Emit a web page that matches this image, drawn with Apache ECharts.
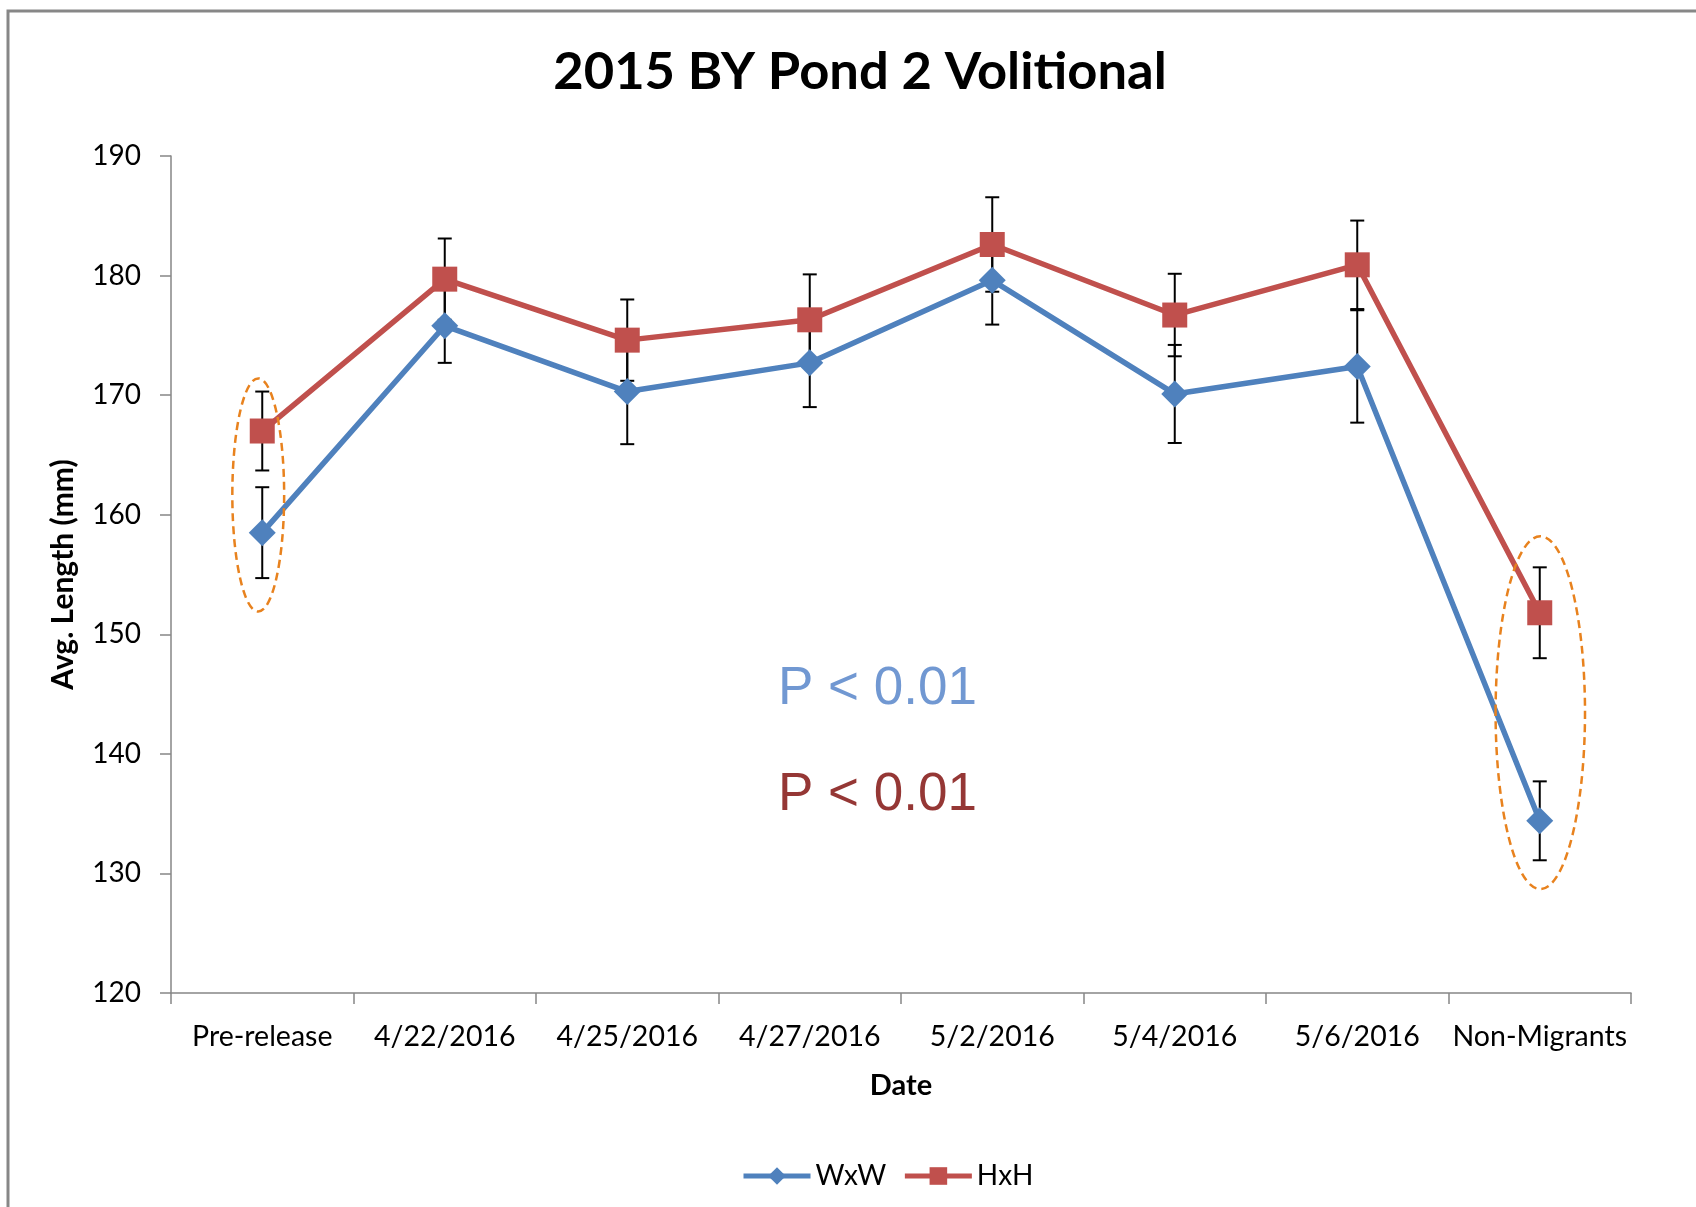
<!DOCTYPE html>
<html>
<head>
<meta charset="utf-8">
<title>2015 BY Pond 2 Volitional</title>
<script src="https://cdn.jsdelivr.net/npm/echarts@6/dist/echarts.min.js"></script>
<style>
  html, body { margin: 0; padding: 0; background: #ffffff; }
  #chart { width: 1696px; height: 1207px; }
</style>
</head>
<body>
<div id="chart"></div>
<script>
// Sampling dates (x categories)
const categories = ['Pre-release', '4/22/2016', '4/25/2016', '4/27/2016', '5/2/2016', '5/4/2016', '5/6/2016', 'Non-Migrants'];

// Average fork length (mm) and error-bar half widths per group
const wxwMean = [158.5, 175.8, 170.3, 172.7, 179.6, 170.1, 172.4, 134.4];
const wxwErr  = [3.8, 3.1, 4.4, 3.7, 3.7, 4.1, 4.7, 3.3];
const hxhMean = [167.0, 179.7, 174.6, 176.3, 182.6, 176.7, 180.9, 151.8];
const hxhErr  = [3.3, 3.4, 3.4, 3.8, 3.95, 3.45, 3.7, 3.8];

// Value axis range
const yMin = 120;
const yMax = 190;
const yStep = 10;

// Highlighted comparisons: [category position, upper value, lower value, half width in category steps]
const highlightGroups = [
  [-0.022, 171.4, 151.9, 0.142],
  [0.003 + 7, 158.2, 128.7, 0.245]
];

// Significance notes
const pNotes = ['P < 0.01', 'P < 0.01'];

const BLUE = '#4f81bd';
const RED = '#c0504d';
const CAL = 'Lato, "Noto Sans", sans-serif';

function errorBars(name, means, errs) {
  return {
    type: 'custom',
    name: name + ' error',
    z: 1,
    silent: true,
    data: means.map((m, i) => [i, m - errs[i], m + errs[i]]),
    renderItem(params, api) {
      const lo = api.coord([api.value(0), api.value(1)]);
      const hi = api.coord([api.value(0), api.value(2)]);
      const hw = 7;
      const style = { stroke: '#000000', lineWidth: 2 };
      return {
        type: 'group',
        children: [
          { type: 'line', shape: { x1: hi[0], y1: hi[1], x2: lo[0], y2: lo[1] }, style },
          { type: 'line', shape: { x1: hi[0] - hw, y1: hi[1], x2: hi[0] + hw, y2: hi[1] }, style },
          { type: 'line', shape: { x1: lo[0] - hw, y1: lo[1], x2: lo[0] + hw, y2: lo[1] }, style }
        ]
      };
    }
  };
}

const chart = echarts.init(document.getElementById('chart'), null, { renderer: 'canvas' });

chart.setOption({
  backgroundColor: '#ffffff',
  animation: false,
  title: {
    text: '2015 BY Pond 2 Volitional',
    left: 855,
    top: 41,
    textAlign: 'center',
    textStyle: { fontFamily: CAL, fontWeight: 'bold', fontSize: 52.5, color: '#000000' }
  },
  grid: { left: 171, right: 65, top: 156, bottom: 214, containLabel: false },
  legend: {
    data: ['WxW', 'HxH'],
    left: 736,
    top: 1157,
    itemWidth: 67,
    itemHeight: 22,
    itemGap: 16,
    lineStyle: { width: 5 },
    textStyle: { fontFamily: CAL, fontSize: 28, color: '#000000' }
  },
  xAxis: {
    type: 'category',
    data: categories,
    boundaryGap: true,
    name: 'Date',
    nameLocation: 'middle',
    nameGap: 78,
    nameTextStyle: { fontFamily: CAL, fontWeight: 'bold', fontSize: 29, color: '#000000', verticalAlign: 'top' },
    axisLine: { show: true, lineStyle: { color: '#868686', width: 1.5 } },
    axisTick: { show: true, interval: 0, length: 11, lineStyle: { color: '#868686', width: 1.5 } },
    axisLabel: { interval: 0, margin: 29, fontFamily: CAL, fontSize: 28.5, color: '#000000' },
    splitLine: { show: false }
  },
  yAxis: {
    type: 'value',
    min: yMin,
    max: yMax,
    interval: yStep,
    name: 'Avg. Length (mm)',
    nameLocation: 'middle',
    nameGap: 93,
    nameTextStyle: { fontFamily: CAL, fontWeight: 'bold', fontSize: 30, color: '#000000' },
    axisLine: { show: true, lineStyle: { color: '#868686', width: 1.5 } },
    axisTick: { show: true, length: 11, lineStyle: { color: '#868686', width: 1.5 } },
    axisLabel: { margin: 30, fontFamily: CAL, fontSize: 28, color: '#000000' },
    splitLine: { show: false }
  },
  series: [
    errorBars('WxW', wxwMean, wxwErr),
    errorBars('HxH', hxhMean, hxhErr),
    {
      type: 'line',
      name: 'WxW',
      z: 2,
      data: wxwMean,
      symbol: 'diamond',
      symbolSize: 27,
      itemStyle: { color: BLUE },
      lineStyle: { color: BLUE, width: 5.5 }
    },
    {
      type: 'line',
      name: 'HxH',
      z: 3,
      data: hxhMean,
      symbol: 'rect',
      symbolSize: 25,
      itemStyle: { color: RED },
      lineStyle: { color: RED, width: 5.5 }
    }
  ]
});

// Annotations: outer frame, dashed ellipses around compared groups, P-value notes
const toPx = (v) => chart.convertToPixel({ gridIndex: 0 }, v);
const x0 = toPx([0, yMin])[0];
const step = toPx([1, yMin])[0] - x0;
const ellipses = highlightGroups.map(([pos, top, bot, hw], k) => {
  const yTop = toPx([0, top])[1];
  const yBot = toPx([0, bot])[1];
  return {
    type: 'ellipse',
    id: 'group' + k,
    z: 20,
    silent: true,
    shape: { cx: x0 + pos * step, cy: (yTop + yBot) / 2, rx: hw * step, ry: (yBot - yTop) / 2 },
    style: { fill: null, stroke: '#e8821e', lineWidth: 2.5, lineDash: [8, 5] }
  };
});

const noteFont = '53px "Liberation Sans", Arial, sans-serif';
chart.setOption({
  graphic: [
    {
      type: 'rect',
      id: 'frame',
      silent: true,
      z: 0,
      shape: { x: 8, y: 11, width: 1800, height: 1400 },
      style: { fill: null, stroke: '#878787', lineWidth: 3 }
    },
    ...ellipses,
    {
      type: 'text',
      id: 'p1',
      x: 778,
      y: 663,
      silent: true,
      style: { text: pNotes[0], font: noteFont, fill: '#7198d2', verticalAlign: 'top' }
    },
    {
      type: 'text',
      id: 'p2',
      x: 778,
      y: 769,
      silent: true,
      style: { text: pNotes[1], font: noteFont, fill: '#953735', verticalAlign: 'top' }
    }
  ]
});
</script>
</body>
</html>
